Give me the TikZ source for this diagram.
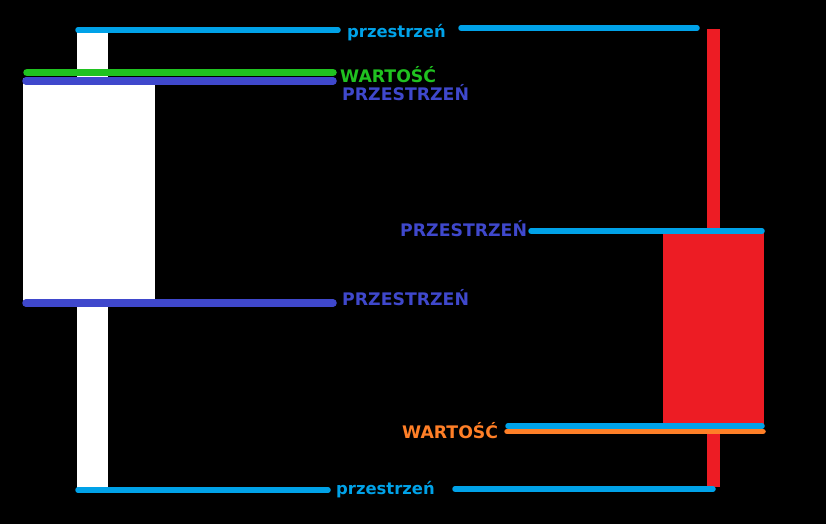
\documentclass[tikz,border=0pt]{standalone}
\usepackage{fontspec}
\setmainfont{DejaVu Sans}
\definecolor{cyanl}{RGB}{0,162,232}
\definecolor{greenl}{RGB}{32,194,32}
\definecolor{indigol}{RGB}{63,72,204}
\definecolor{redl}{RGB}{237,28,36}
\definecolor{orangel}{RGB}{255,127,39}
\begin{document}
\begin{tikzpicture}[x=1pt,y=-1pt,
  lbl/.style={anchor=west,inner sep=0pt,font=\bfseries\fontsize{17.3}{19}\selectfont},
  lbls/.style={lbl,font=\bfseries\fontsize{16.4}{18}\selectfont},
  thinln/.style={line width=5.5pt,line cap=round,cyanl},
  thickln/.style={line width=7.5pt,line cap=round}]
\fill[black] (0,0) rectangle (826,524);
\useasboundingbox (0,0) rectangle (826,524);
% white candle
\fill[white] (77,31) rectangle (108,492);
\fill[white] (23,78) rectangle (155,303);
% red candle
\fill[redl] (707,29) rectangle (720,487);
\fill[redl] (663,231) rectangle (764,425);
% labels
\node[lbls,text=cyanl] (p1) at (347,33) {przestrzeń};
\node[lbl,text=greenl] (w1) at (340,75) {WARTOŚĆ};
\node[lbl,text=indigol] (P1) at (342,93) {PRZESTRZEŃ};
\node[lbl,text=indigol] (P2) at (342,298) {PRZESTRZEŃ};
\node[lbl,text=indigol] (P3) at (400,229) {PRZESTRZEŃ};
\node[lbl,text=orangel] (w2) at (402,431) {WARTOŚĆ};
\node[lbls,text=cyanl] (p2) at (336,490) {przestrzeń};
% coordinates
\coordinate (a1) at (78,30);
\coordinate (a2) at (338,30);
\coordinate (a3) at (461,28);
\coordinate (a4) at (697,28);
\coordinate (g1) at (27,72.5);
\coordinate (g2) at (333,72.5);
\coordinate (i1) at (26,81);
\coordinate (i2) at (333,81);
\coordinate (j1) at (26,303);
\coordinate (j2) at (333,303);
\coordinate (c1) at (531,231);
\coordinate (c2) at (762,231);
\coordinate (d1) at (508,426);
\coordinate (d2) at (762,426);
\coordinate (o1) at (507,431.5);
\coordinate (o2) at (763,431.5);
\coordinate (b1) at (78,490);
\coordinate (b2) at (328,490);
\coordinate (b3) at (455,489);
\coordinate (b4) at (713,489);
% lines
\draw[thinln] (a1) -- (a2);
\draw[thinln] (a3) -- (a4);
\draw[thickln,greenl] (g1) -- (g2);
\draw[thickln,indigol] (i1) -- (i2);
\draw[thickln,indigol] (j1) -- (j2);
\draw[thinln] (c1) -- (c2);
\draw[thinln] (d1) -- (d2);
\draw[thinln,orangel] (o1) -- (o2);
\draw[thinln] (b1) -- (b2);
\draw[thinln] (b3) -- (b4);
\end{tikzpicture}
\end{document}
